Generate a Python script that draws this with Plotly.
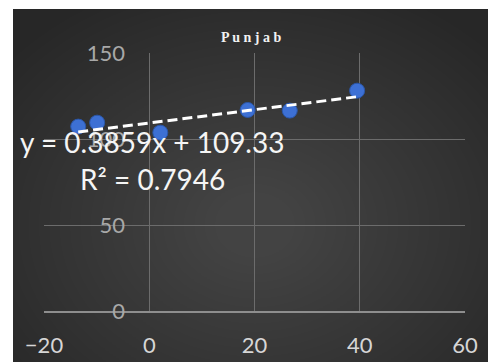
import plotly.graph_objects as go

# ---- data ----
x_vals = [-13.5, -9.9, 2.1, 18.7, 26.7, 39.5]
y_vals = [107.2, 109.5, 103.7, 116.9, 116.5, 128.1]
slope = 0.3859
intercept = 109.33
r2 = 0.7946
title_text = "Punjab"
x_ticks = [-20, 0, 20, 40, 60]
y_ticks = [0, 50, 100, 150]

# ---- layout geometry (pixels) ----
W, H = 488, 362
L, R, T, B = 44, 23, 53, 51
PW, PH = W - L - R, H - T - B

def fx(px):
    return (px - L) / PW

def fy(py):
    return (H - B - py) / PH

fig = go.Figure()

fig.add_trace(go.Scatter(
    x=x_vals, y=y_vals, mode="markers",
    marker=dict(size=15, color="#3d70d4", line=dict(width=1, color="#2a56a8")),
    showlegend=False, hoverinfo="skip"))

x0, x1 = min(x_vals), max(x_vals)
fig.add_trace(go.Scatter(
    x=[x0, x1], y=[slope * x0 + intercept, slope * x1 + intercept],
    mode="lines", line=dict(color="white", width=3, dash="10px,5px"),
    showlegend=False, hoverinfo="skip"))

shapes = []
# dark background panel
shapes.append(dict(type="rect", xref="paper", yref="paper", layer="below",
                   x0=fx(13), x1=fx(W + 5), y0=fy(9), y1=fy(H + 5),
                   fillcolor="#272727", line=dict(width=0)))
# radial gradient approximation
cx, cy = 255, 225
n = 28
for i in range(n):
    t = 1 - i / n
    rx = 30 + 290 * t
    ry = 25 + 230 * t
    shapes.append(dict(type="circle", xref="paper", yref="paper", layer="below",
                       x0=fx(cx - rx), x1=fx(cx + rx), y0=fy(cy + ry), y1=fy(cy - ry),
                       fillcolor="rgba(255,255,255,0.009)", line=dict(width=0)))

eq_text = f"y = {slope}x + {intercept}"
r2_text = f"R² = {r2}"

fig.update_layout(
    width=W, height=H,
    margin=dict(l=L, r=R, t=T, b=B, pad=0, autoexpand=False),
    paper_bgcolor="white",
    plot_bgcolor="rgba(0,0,0,0)",
    shapes=shapes,
    font=dict(family="Lato", color="#d9d9d9"),
    xaxis=dict(range=[-20, 60], tickvals=x_ticks, showgrid=True, automargin=False,
               gridcolor="#6c6c6c", gridwidth=1, zeroline=False,
               showline=True, linecolor="#8e8e8e", linewidth=1.5,
               ticks="", tickfont=dict(size=22, color="#d6d6d6", family="Lato"),
               ticklabelstandoff=14),
    yaxis=dict(range=[0, 150], tickvals=y_ticks, showgrid=True, automargin=False,
               gridcolor="#6c6c6c", gridwidth=1, zeroline=False,
               showline=False, ticks="", anchor="free", position=fx(125),
               tickfont=dict(size=22, color="#a8a8a8", family="Lato")),
    annotations=[
        dict(text="<b>" + " ".join(title_text) + "</b>", xref="paper", yref="paper",
             x=fx(251), y=fy(38), xanchor="center", yanchor="middle", showarrow=False,
             font=dict(family="Liberation Serif", size=14, color="#f2f2f2")),
        dict(text=eq_text, xref="paper", yref="paper",
             x=fx(152), y=fy(142), xanchor="center", yanchor="middle", showarrow=False,
             font=dict(family="Lato", size=28, color="#f5f5f5")),
        dict(text=r2_text, xref="paper", yref="paper",
             x=fx(152), y=fy(179), xanchor="center", yanchor="middle", showarrow=False,
             font=dict(family="Lato", size=28, color="#f5f5f5")),
    ],
)

fig.write_html("out.html", config={"displayModeBar": False},
               post_script="document.body.style.margin='0';document.body.style.overflow='hidden';")
